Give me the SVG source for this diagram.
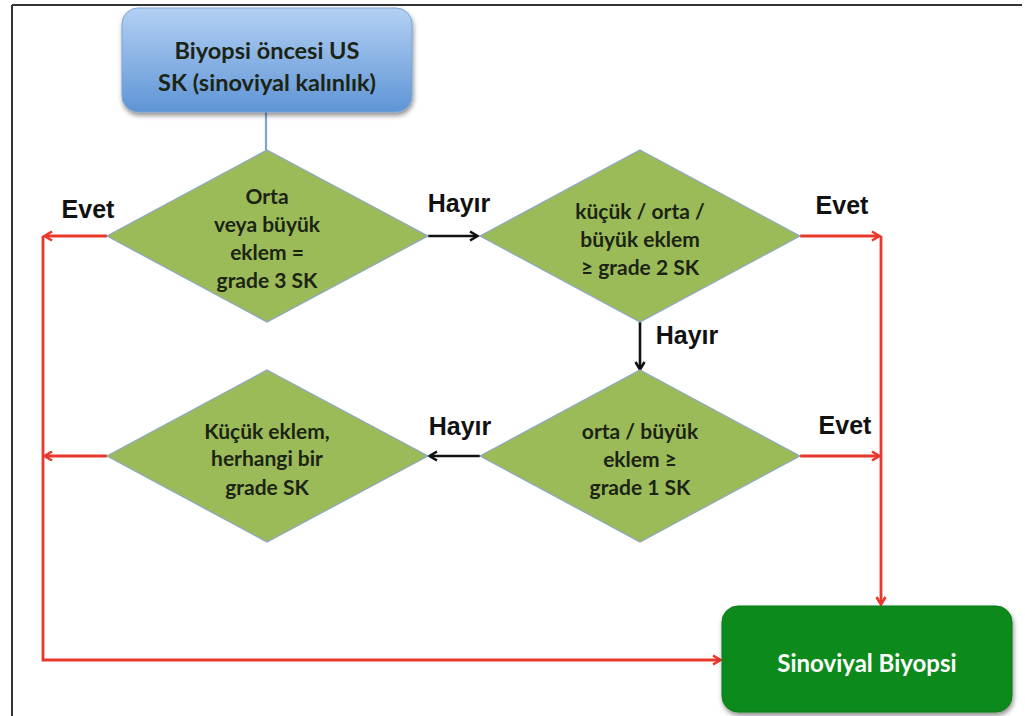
<svg xmlns="http://www.w3.org/2000/svg" width="1025" height="716" viewBox="0 0 1025 716">
<defs>
<linearGradient id="blueGrad" x1="0" y1="0" x2="0" y2="1">
<stop offset="0" stop-color="#b3d0f3"/>
<stop offset="1" stop-color="#5f95d6"/>
</linearGradient>
<filter id="shadow" x="-10%" y="-10%" width="125%" height="130%">
<feGaussianBlur in="SourceAlpha" stdDeviation="2.5"/>
<feOffset dx="1" dy="3" result="b"/>
<feComponentTransfer><feFuncA type="linear" slope="0.45"/></feComponentTransfer>
<feMerge><feMergeNode/><feMergeNode in="SourceGraphic"/></feMerge>
</filter>
<marker id="arrRed" markerWidth="12" markerHeight="12" refX="9" refY="6" orient="auto" markerUnits="userSpaceOnUse">
<path d="M2,1.5 L9.5,6 L2,10.5" fill="none" stroke="#e8372b" stroke-width="2.6"/>
</marker>
<marker id="arrBlack" markerWidth="12" markerHeight="12" refX="9" refY="6" orient="auto" markerUnits="userSpaceOnUse">
<path d="M2,1.5 L9.5,6 L2,10.5" fill="none" stroke="#111" stroke-width="2.6"/>
</marker>
</defs>
<style>
.frame{stroke:#333;stroke-width:2;fill:none}
.dia{fill:#9bbb59;stroke:#8ea6c4;stroke-width:1.2}
.ntext{font-family:Lato,"Liberation Sans",sans-serif;font-weight:bold;font-size:21px;fill:#1c2414;text-anchor:middle}
.big{font-size:23.5px}
.end{font-size:24px;fill:#ffffff}
.lbl{font-family:"Liberation Sans",Arial,sans-serif;font-weight:bold;font-size:25px;fill:#111;text-anchor:middle}
.red{stroke:#e8372b;stroke-width:2.8;fill:none}
.blk{stroke:#111;stroke-width:2.6;fill:none}
</style>
<rect width="1025" height="716" fill="#ffffff"/>
<line class="frame" x1="12" y1="5" x2="1022" y2="5"/>
<line class="frame" x1="12" y1="5" x2="12" y2="716"/>

<g id="connectors">
<line x1="266" y1="112" x2="266" y2="150" stroke="#7ea6d0" stroke-width="2.2"/>
<line class="red" x1="107" y1="236" x2="45" y2="236" marker-end="url(#arrRed)"/>
<line class="red" x1="107" y1="456" x2="45" y2="456" marker-end="url(#arrRed)"/>
<polyline class="red" points="43,236 43,660 720,660" marker-end="url(#arrRed)"/>
<line class="red" x1="800" y1="236" x2="879" y2="236" marker-end="url(#arrRed)"/>
<line class="red" x1="800" y1="456" x2="879" y2="456" marker-end="url(#arrRed)"/>
<line class="red" x1="881" y1="236" x2="881" y2="604" marker-end="url(#arrRed)"/>
<line class="blk" x1="428" y1="236" x2="477" y2="236" marker-end="url(#arrBlack)"/>
<line class="blk" x1="640" y1="322" x2="640" y2="369" marker-end="url(#arrBlack)"/>
<line class="blk" x1="480" y1="456" x2="430" y2="456" marker-end="url(#arrBlack)"/>
<text class="lbl" x="88" y="218">Evet</text>
<text class="lbl" x="459" y="212">Hayır</text>
<text class="lbl" x="842" y="214">Evet</text>
<text class="lbl" x="687" y="344">Hayır</text>
<text class="lbl" x="460" y="435">Hayır</text>
<text class="lbl" x="845" y="434">Evet</text>
</g>

<g id="start">
<rect x="122" y="8" width="290" height="104" rx="16" fill="url(#blueGrad)" stroke="#7aa3d6" stroke-width="1" filter="url(#shadow)"/>
<text class="ntext big" x="267" y="59">Biyopsi öncesi US</text>
<text class="ntext big" x="267" y="91">SK (sinoviyal kalınlık)</text>
</g>

<g id="d1">
<polygon class="dia" points="267,150 428,236 267,322 107,236"/>
<text class="ntext" x="267" y="204">Orta</text>
<text class="ntext" x="267" y="232">veya büyük</text>
<text class="ntext" x="267" y="260">eklem =</text>
<text class="ntext" x="267" y="288">grade 3 SK</text>
</g>

<g id="d2">
<polygon class="dia" points="640,150 800,236 640,322 480,236"/>
<text class="ntext" x="640" y="219">küçük / orta /</text>
<text class="ntext" x="640" y="247">büyük eklem</text>
<text class="ntext" x="640" y="275">≥ grade 2 SK</text>
</g>

<g id="d3">
<polygon class="dia" points="640,370 800,456 640,542 480,456"/>
<text class="ntext" x="640" y="439">orta / büyük</text>
<text class="ntext" x="640" y="467">eklem ≥</text>
<text class="ntext" x="640" y="495">grade 1 SK</text>
</g>

<g id="d4">
<polygon class="dia" points="267,370 428,456 267,542 107,456"/>
<text class="ntext" x="267" y="439">Küçük eklem,</text>
<text class="ntext" x="267" y="466">herhangi bir</text>
<text class="ntext" x="267" y="495">grade SK</text>
</g>

<g id="end">
<rect x="722" y="606" width="290" height="106" rx="16" fill="#0a8a1c" stroke="#0b7a18" stroke-width="1" filter="url(#shadow)"/>
<text class="ntext end" x="867" y="672">Sinoviyal Biyopsi</text>
</g>
</svg>
